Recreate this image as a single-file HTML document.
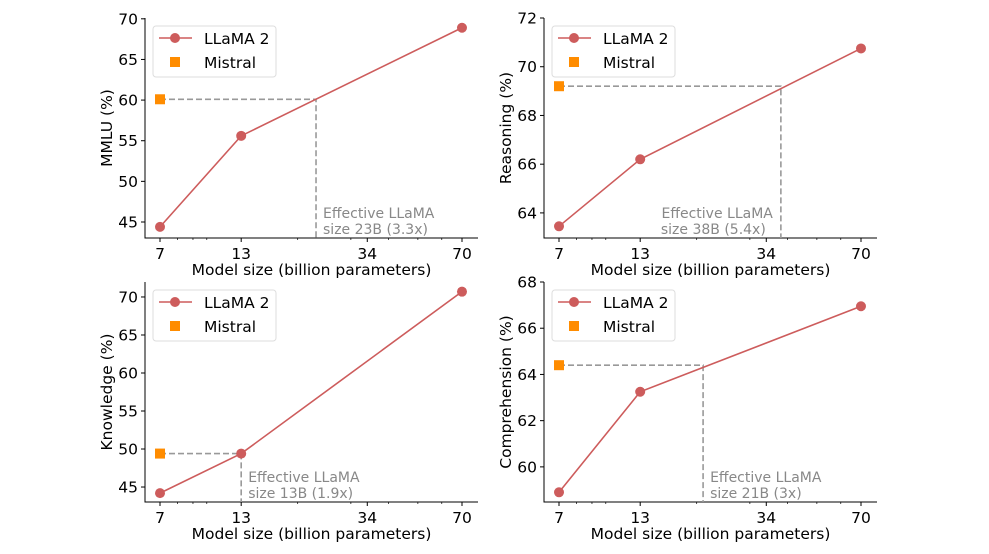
<!DOCTYPE html>
<html><head><meta charset="utf-8"><style>
html,body{margin:0;padding:0;background:#fff;}
svg{display:block;font-family:"DejaVu Sans","Liberation Sans",sans-serif;}
</style></head>
<body>
<svg id="chart" width="989" height="554" viewBox="0 0 989 554"></svg>
<script>
const sizes = [7, 13, 70];
const xTicks = [7, 13, 34, 70];
const minorTicks = [8, 9, 10, 20, 30, 40, 50, 60];
const mmluValues = [44.4, 55.6, 68.9];
const mmluMistral = 60.1;
const mmluEffective = 23;
const reasoningValues = [63.45, 66.2, 70.75];
const reasoningMistral = 69.2;
const reasoningEffective = 38;
const knowledgeValues = [44.2, 49.4, 70.7];
const knowledgeMistral = 49.4;
const knowledgeEffective = 13;
const comprehensionValues = [58.9, 63.25, 66.95];
const comprehensionMistral = 64.4;
const comprehensionEffective = 21;
const mmluTicks = [45, 50, 55, 60, 65, 70];
const reasoningTicks = [64, 66, 68, 70, 72];
const knowledgeTicks = [45, 50, 55, 60, 65, 70];
const comprehensionTicks = [60, 62, 64, 66, 68];

const NS = "http://www.w3.org/2000/svg";
const svg = document.getElementById("chart");
function mk(tag, attrs, parent, text) {
  const e = document.createElementNS(NS, tag);
  for (const k in attrs) e.setAttribute(k, attrs[k]);
  if (text !== undefined) e.textContent = text;
  (parent || svg).appendChild(e);
  return e;
}

const panels = [
  {key:"mmlu", label:"MMLU (%)", vals:mmluValues, mis:mmluMistral, eff:mmluEffective, ticks:mmluTicks, note:"size 23B (3.3x)", left:false, L:145, R:478, T:18, B:238, ymin:43.03, ymax:70.1},
  {key:"reasoning", label:"Reasoning (%)", vals:reasoningValues, mis:reasoningMistral, eff:reasoningEffective, ticks:reasoningTicks, note:"size 38B (5.4x)", left:true, L:544, R:877, T:18, B:238, ymin:62.97, ymax:72.0},
  {key:"knowledge", label:"Knowledge (%)", vals:knowledgeValues, mis:knowledgeMistral, eff:knowledgeEffective, ticks:knowledgeTicks, note:"size 13B (1.9x)", left:false, L:145, R:478, T:282, B:502, ymin:43.03, ymax:71.97},
  {key:"comprehension", label:"Comprehension (%)", vals:comprehensionValues, mis:comprehensionMistral, eff:comprehensionEffective, ticks:comprehensionTicks, note:"size 21B (3x)", left:false, L:544, R:877, T:282, B:502, ymin:58.48, ymax:68.0}
];

panels.forEach(p => {
  const g = mk("g", {});
  
  
  const lx0 = Math.log(7) - 15/131.1, lx1 = Math.log(70) + 16/131.1;
  const X = v => p.L + (Math.log(v) - lx0) / (lx1 - lx0) * (p.R - p.L);
  const Y = v => p.B - (v - p.ymin) / (p.ymax - p.ymin) * (p.B - p.T);

  const sp = mk("path", {d:`M${p.L},${p.T} L${p.L},${p.B} L${p.R},${p.B}`, fill:"none", stroke:"#000", "stroke-width":1}, g);
  
  

  xTicks.forEach(t => {
    mk("line", {x1:X(t), x2:X(t), y1:p.B, y2:p.B+4, stroke:"#000"}, g);
    const tl = mk("text", {x:X(t), y:p.B+21, "text-anchor":"middle", "font-size":15.5}, g, String(t));
    
    
  });
  minorTicks.forEach(t => mk("line", {x1:X(t), x2:X(t), y1:p.B, y2:p.B+2, stroke:"#000", "stroke-width":0.7}, g));
  const xl = mk("text", {x:(p.L+p.R)/2, y:p.B+37, "text-anchor":"middle", "font-size":15.5}, g, "Model size (billion parameters)");
  
  

  p.ticks.forEach(t => {
    mk("line", {x1:p.L-4, x2:p.L, y1:Y(t), y2:Y(t), stroke:"#000"}, g);
    const tl = mk("text", {x:p.L-7, y:Y(t)+5.5, "text-anchor":"end", "font-size":15.5}, g, String(t));
    
    
  });
  const yc = (p.T+p.B)/2;
  const yl = mk("text", {x:0, y:0, transform:`translate(${p.L-33},${yc}) rotate(-90)`, "text-anchor":"middle", "font-size":15.5}, g, p.label);
  
  

  const dash = mk("path", {d:`M${X(7)},${Y(p.mis)} L${X(p.eff)},${Y(p.mis)} L${X(p.eff)},${p.B}`, fill:"none", stroke:"#999", "stroke-width":1.6, "stroke-dasharray":"6,3"}, g);
  
  
  const ax = p.left ? X(p.eff)-8 : X(p.eff)+7;
  const anc = p.left ? "end" : "start";
  const n1 = mk("text", {x:ax, y:p.B-20, "font-size":14, fill:"#888", "text-anchor":anc}, g, "Effective LLaMA");
  
  
  const n2 = mk("text", {x:p.left ? ax - 112 : ax, y:p.B-4, "font-size":14, fill:"#888"}, g, p.note);
  
  

  const pts = sizes.map((s,i) => `${X(s)},${Y(p.vals[i])}`).join(" ");
  const ln = mk("polyline", {points:pts, fill:"none", stroke:"#cd5c5c", "stroke-width":1.6}, g);
  
  
  sizes.forEach((s,i) => {
    const c = mk("circle", {cx:X(s), cy:Y(p.vals[i]), r:5, fill:"#cd5c5c"}, g);
    
    
  });
  const sq = mk("rect", {x:X(7)-5, y:Y(p.mis)-5, width:10, height:10, fill:"#ff8c00"}, g);
  
  

  const lg = mk("g", {}, g);
  
  
  const lx = p.L+8, ly = p.T+8;
  mk("rect", {x:lx, y:ly, width:123, height:51, rx:3, fill:"#fff", "fill-opacity":0.8, stroke:"#ddd"}, lg);
  mk("line", {x1:lx+6, x2:lx+39, y1:ly+12, y2:ly+12, stroke:"#cd5c5c", "stroke-width":1.6}, lg);
  mk("circle", {cx:lx+22, cy:ly+12, r:5, fill:"#cd5c5c"}, lg);
  const e1 = mk("text", {x:lx+51, y:ly+18, "font-size":15.5}, lg, "LLaMA 2");
  
  
  mk("rect", {x:lx+17, y:ly+31, width:10, height:10, fill:"#ff8c00"}, lg);
  const e2 = mk("text", {x:lx+51, y:ly+42, "font-size":15.5}, lg, "Mistral");
  
  
});
</script>
</body></html>
